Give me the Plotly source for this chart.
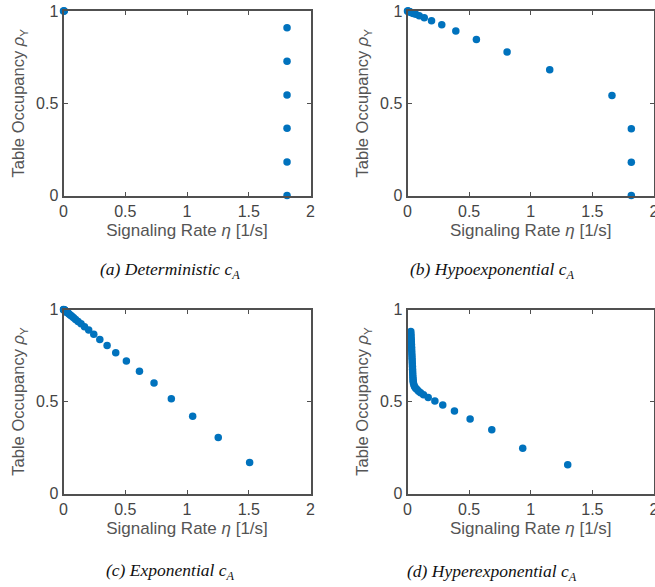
import plotly.graph_objects as go

# Signaling rate (eta, 1/s) vs. table occupancy (rho_Y) for four arrival distributions
det_x = [0.0, 0.003, 0.006, 1.81, 1.81, 1.81, 1.81, 1.81, 1.81]
det_y = [1.0, 1.0, 1.0, 0.909, 0.727, 0.545, 0.364, 0.182, 0.0]

hypo_x = [0.0, 0.003, 0.005, 0.008, 0.011, 0.016, 0.023, 0.033, 0.047, 0.067, 0.095,
          0.136, 0.195, 0.278, 0.392, 0.559, 0.808, 1.154, 1.659, 1.816, 1.816, 1.816]
hypo_y = [1.0, 0.999, 0.999, 0.998, 0.997, 0.996, 0.994, 0.991, 0.987, 0.982, 0.974,
          0.963, 0.947, 0.925, 0.892, 0.846, 0.778, 0.682, 0.542, 0.362, 0.180, 0.0]

exp_x = [0.0, 0.002, 0.003, 0.004, 0.005, 0.006, 0.008, 0.009, 0.011, 0.013, 0.016, 0.019,
         0.023, 0.027, 0.033, 0.039, 0.047, 0.057, 0.068, 0.082, 0.098, 0.118, 0.142, 0.170,
         0.204, 0.245, 0.294, 0.353, 0.423, 0.509, 0.615, 0.733, 0.873, 1.046, 1.253, 1.507]
exp_y = [1.0, 0.999, 0.998, 0.998, 0.997, 0.997, 0.996, 0.995, 0.994, 0.993, 0.991, 0.990,
         0.987, 0.985, 0.982, 0.979, 0.974, 0.969, 0.963, 0.955, 0.946, 0.935, 0.922, 0.906,
         0.888, 0.865, 0.837, 0.805, 0.765, 0.720, 0.664, 0.600, 0.515, 0.420, 0.304, 0.168]

hyper_x = [0.027, 0.028, 0.029, 0.030, 0.031, 0.032, 0.033, 0.034, 0.035, 0.036, 0.037, 0.038,
           0.039, 0.040, 0.041, 0.042, 0.043, 0.044, 0.045, 0.046, 0.048, 0.052, 0.058, 0.066,
           0.077, 0.090, 0.106, 0.130, 0.168, 0.222, 0.286, 0.381, 0.508, 0.684, 0.935, 1.300]
hyper_y = [0.880, 0.866, 0.852, 0.838, 0.824, 0.810, 0.795, 0.780, 0.765, 0.750, 0.735, 0.720,
           0.705, 0.690, 0.675, 0.660, 0.645, 0.632, 0.620, 0.610, 0.600, 0.590, 0.580, 0.572,
           0.565, 0.556, 0.547, 0.537, 0.522, 0.503, 0.481, 0.448, 0.405, 0.347, 0.246, 0.156]

x_ticks = [0, 0.5, 1, 1.5, 2]
x_tick_text = ["0", "0.5", "1", "1.5", "2"]
y_ticks = [0, 0.5, 1]
y_tick_text = ["0", "0.5", "1"]

captions = [
    "<i>(a) Deterministic c<sub>A</sub></i>",
    "<i>(b) Hypoexponential c<sub>A</sub></i>",
    "<i>(c) Exponential c<sub>A</sub></i>",
    "<i>(d) Hyperexponential c<sub>A</sub></i>",
]

W, H = 655, 587
MARKER = "#0072BD"
AXIS = "#505050"
TEXT = "#444444"
TITLE = "#555555"

# panel boxes in pixels: (left, right, top, bottom)
boxes = [
    (63.5, 310.5, 11, 195.5),
    (407.5, 654.0, 11, 195.5),
    (63.5, 310.5, 309.5, 493.5),
    (407.5, 654.0, 309.5, 493.5),
]
caption_pos = [(170, 270), (492, 270), (170, 571), (492, 572)]

series = [(det_x, det_y), (hypo_x, hypo_y), (exp_x, exp_y), (hyper_x, hyper_y)]

fig = go.Figure()
fig.update_layout(
    width=W, height=H,
    margin=dict(l=0, r=0, t=0, b=0),
    paper_bgcolor="white", plot_bgcolor="white",
    showlegend=False,
    template="none",
    font=dict(family="Liberation Sans, Arial, sans-serif", color=TEXT, size=16),
)

for i, ((xs, ys), (l, r, t, b)) in enumerate(zip(series, boxes)):
    n = "" if i == 0 else str(i + 1)
    fig.add_trace(go.Scatter(
        x=xs, y=ys, mode="markers",
        marker=dict(color=MARKER, size=7.5, line=dict(width=0)),
        cliponaxis=False,
        xaxis="x" + n, yaxis="y" + n,
    ))
    xa = go.layout.XAxis(
        domain=[l / W, r / W], range=[0, 2], anchor="y" + n,
        tickmode="array", tickvals=x_ticks, ticktext=x_tick_text,
        showline=True, linecolor=AXIS, linewidth=2, mirror="ticks",
        ticks="inside", ticklen=4, tickcolor=AXIS, tickwidth=1,
        showgrid=False, zeroline=False,
        ticklabeloverflow="allow",
        tickfont=dict(size=16, color=TEXT),
        title=dict(text="Signaling Rate <i>η</i> [1/s]",
                   font=dict(size=17, color=TITLE), standoff=5),
    )
    ya = go.layout.YAxis(
        domain=[1 - b / H, 1 - t / H], range=[0, 1], anchor="x" + n,
        tickmode="array", tickvals=y_ticks, ticktext=y_tick_text,
        showline=True, linecolor=AXIS, linewidth=2, mirror="ticks",
        ticks="inside", ticklen=4, tickcolor=AXIS, tickwidth=1,
        showgrid=False, zeroline=False,
        tickfont=dict(size=16, color=TEXT),
        title=dict(text="Table Occupancy <i>ρ</i><sub>Y</sub>",
                   font=dict(size=16.5, color=TITLE), standoff=7),
    )
    fig.update_layout({"xaxis" + n: xa, "yaxis" + n: ya})
    cx, cy = caption_pos[i]
    fig.add_annotation(
        text=captions[i], x=cx / W, y=1 - cy / H, xref="paper", yref="paper",
        showarrow=False, xanchor="center", yanchor="middle",
        font=dict(family="Liberation Serif, Times New Roman, serif", size=17.5, color="#111111"),
    )

fig.write_html("out.html")
